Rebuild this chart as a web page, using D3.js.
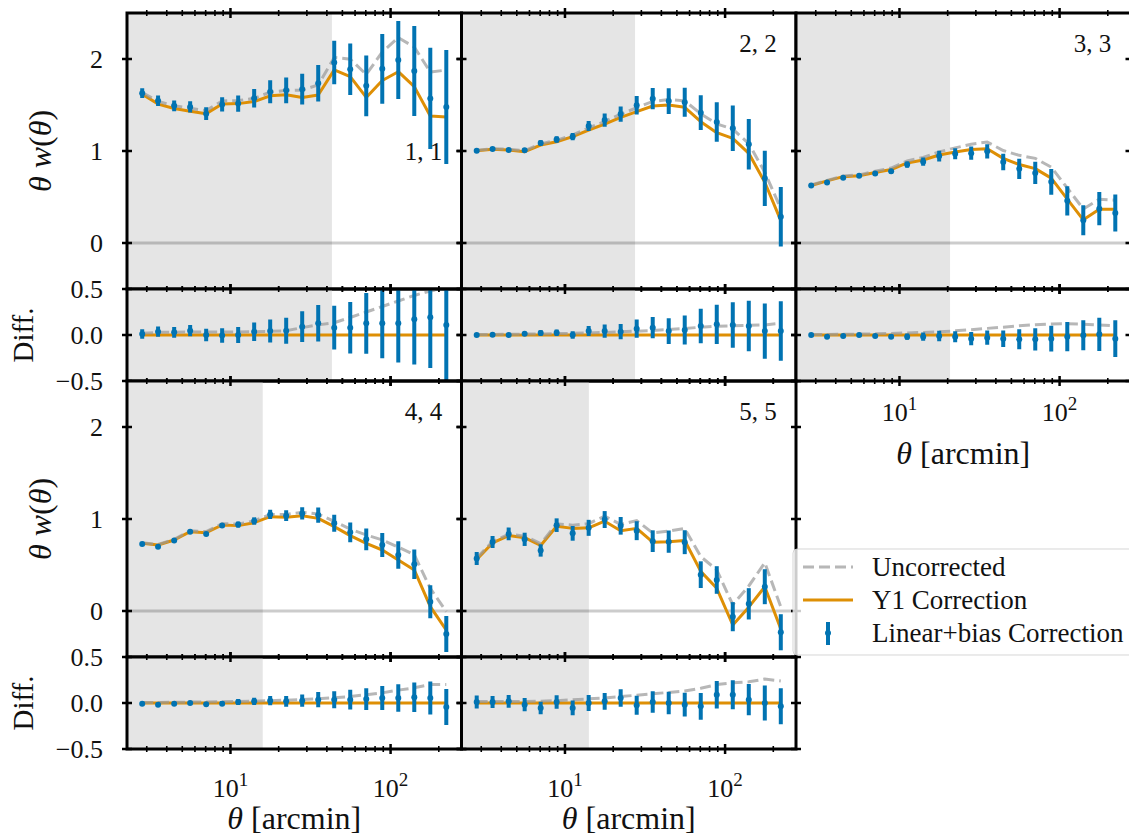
<!DOCTYPE html>
<html><head><meta charset="utf-8">
<script src="https://cdn.jsdelivr.net/npm/d3@7"></script>
<style>
body{margin:0;background:#fff}
text{font-family:"Liberation Serif","Times New Roman",serif;fill:#111}
</style>
</head><body>
<svg id="chart" width="1129" height="837"></svg>
<script>
// ---------------- data ----------------
const theta = [2.81, 3.53, 4.45, 5.60, 7.05, 8.87, 11.17, 14.06, 17.70, 22.28,
               28.05, 35.32, 44.46, 55.97, 70.47, 88.71, 111.7, 140.6, 177.0, 222.8];
const binLabels = ["1, 1", "2, 2", "3, 3", "4, 4", "5, 5"];
const scaleCuts = [43, 27.4, 20.7, 15.9, 14.1];

// Y1 correction (orange) theta*w(theta) per bin
const y1Correction = [
  [1.618,1.51,1.462,1.432,1.406,1.511,1.515,1.537,1.6,1.612,1.581,1.609,1.882,1.808,1.582,1.766,1.862,1.7,1.38,1.37],
  [1.004,1.018,1.011,0.993,1.065,1.101,1.156,1.228,1.293,1.366,1.428,1.489,1.5,1.475,1.319,1.199,1.138,0.975,0.66,0.243],
  [0.625,0.675,0.721,0.73,0.766,0.798,0.87,0.902,0.956,0.989,1.016,1.025,0.92,0.853,0.808,0.705,0.476,0.252,0.366,0.366],
  [0.736,0.717,0.772,0.862,0.851,0.935,0.928,0.96,1.025,1.018,1.036,1.007,0.917,0.819,0.736,0.663,0.554,0.446,0.047,-0.207],
  [0.56,0.74,0.82,0.797,0.712,0.922,0.898,0.904,0.976,0.872,0.898,0.748,0.754,0.766,0.431,0.247,-0.152,0.042,0.264,-0.195]
];
// Linear+bias correction minus Y1 correction (blue, "Diff.")
const linearBiasDiff = [
  [0.011,0.036,0.029,0.047,0.0,-0.005,0.0,0.036,0.043,0.047,0.091,0.127,0.08,0.08,0.127,0.127,0.127,0.17,0.192,0.109],
  [0.0,0.004,0.0,0.014,0.022,0.025,0.0,0.043,0.043,0.036,0.069,0.08,0.043,0.054,0.098,0.116,0.109,0.098,0.043,0.043],
  [0.0,-0.018,-0.011,0.0,-0.011,-0.018,-0.018,-0.018,-0.011,-0.018,-0.04,-0.029,-0.04,-0.047,-0.047,-0.04,-0.018,-0.004,0.007,-0.04],
  [-0.007,-0.018,-0.007,0.0,-0.014,-0.007,0.011,0.018,0.025,0.018,0.025,0.036,0.036,0.036,0.043,0.054,0.054,0.062,0.054,-0.043],
  [0.011,0.011,0.018,-0.018,-0.054,0.011,-0.054,0.0,0.018,0.054,-0.025,0.011,0.0,-0.018,-0.036,0.09,0.09,0.036,0.0,-0.036]
];
// Uncorrected minus Y1 correction (gray dashed, "Diff.")
const uncorrectedDiff = [
  [0.018,0.029,0.029,0.033,0.033,0.033,0.033,0.036,0.04,0.047,0.08,0.11,0.134,0.19,0.25,0.31,0.37,0.43,0.478,0.51],
  [0.005,0.006,0.008,0.01,0.012,0.015,0.018,0.022,0.028,0.035,0.042,0.05,0.06,0.07,0.085,0.095,0.1,0.105,0.11,0.13],
  [0.005,0.006,0.008,0.01,0.013,0.017,0.022,0.028,0.035,0.045,0.058,0.072,0.085,0.1,0.112,0.12,0.122,0.118,0.11,0.1],
  [0.005,0.006,0.008,0.01,0.012,0.014,0.017,0.02,0.025,0.031,0.038,0.047,0.058,0.07,0.09,0.11,0.14,0.165,0.2,0.2],
  [0.015,0.015,0.015,0.017,0.02,0.025,0.035,0.045,0.055,0.07,0.085,0.1,0.115,0.13,0.16,0.2,0.22,0.23,0.26,0.24]
];
// 1-sigma errors on the Linear+bias points
const errors = [
  [0.052,0.056,0.058,0.061,0.069,0.078,0.088,0.1,0.125,0.141,0.167,0.198,0.237,0.28,0.33,0.38,0.425,0.49,0.55,0.62],
  [0.012,0.013,0.015,0.018,0.03,0.035,0.04,0.054,0.072,0.083,0.1,0.116,0.14,0.158,0.188,0.214,0.248,0.275,0.3,0.323],
  [0.012,0.013,0.015,0.017,0.02,0.025,0.033,0.045,0.058,0.06,0.072,0.078,0.09,0.109,0.121,0.14,0.158,0.163,0.18,0.2],
  [0.01,0.01,0.012,0.013,0.014,0.025,0.033,0.04,0.05,0.058,0.067,0.083,0.092,0.107,0.118,0.13,0.15,0.16,0.18,0.195],
  [0.07,0.065,0.069,0.072,0.067,0.074,0.08,0.087,0.092,0.096,0.103,0.118,0.121,0.13,0.145,0.15,0.158,0.17,0.19,0.196]
];
const mainTicks = [0, 1, 2];
const diffTicks = [-0.5, 0, 0.5];
const xMajorTicks = [10, 100];
const xMinorTicks = [3,4,5,6,7,8,9,20,30,40,50,60,70,80,90,200];
const legendLabels = ["Uncorrected", "Y1 Correction", "Linear+bias Correction"];

// ---------------- layout / style ----------------
const COL = {blue:"#0173B2", orange:"#DE8F05", gray:"#999999", shade:"#e5e5e5"};
const svg = d3.select("#chart");
svg.append("rect").attr("width",1129).attr("height",837).attr("fill","#fff");
const colX = [127, 461.5, 796], colW = 334.5;
const rowTop = [13, 381], mainH = 276, diffH = 92;
const layout = [[0,0],[0,1],[0,2],[1,0],[1,1]];
const lo = Math.log10(theta[0]), hi = Math.log10(theta[theta.length-1]);
const pad = 0.05*(hi-lo);
const xDomain = [Math.pow(10, lo-pad), Math.pow(10, hi+pad)];
const tickFont = 26, labelFont = 32;
let clipId = 0;

function drawPanel(g, x, y, series, opts){
  const [x0,x1] = x.range(); const [yb,yt] = y.range();
  const id = "clip"+(clipId++);
  g.append("clipPath").attr("id",id).append("rect")
    .attr("x",x0).attr("y",yt).attr("width",x1-x0).attr("height",yb-yt);
  const d = g.append("g").attr("clip-path",`url(#${id})`);
  d.append("rect").attr("x",x0).attr("y",yt).attr("width",x(opts.cut)-x0).attr("height",yb-yt)
    .attr("fill",COL.shade);
  if(opts.zero){
    d.append("line").attr("x1",x0).attr("x2",x1).attr("y1",y(0)).attr("y2",y(0))
      .attr("stroke","#000").attr("stroke-opacity",0.2).attr("stroke-width",3);
  }
  const line = d3.line().x((v,i)=>x(theta[i])).y(v=>y(v));
  d.append("path").attr("d",line(series.orange)).attr("fill","none")
    .attr("stroke",COL.orange).attr("stroke-width",3).attr("stroke-linejoin","round");
  d.append("path").attr("d",line(series.gray)).attr("fill","none")
    .attr("stroke",COL.gray).attr("stroke-opacity",0.7).attr("stroke-width",3)
    .attr("stroke-dasharray","11,5");
  d.selectAll("line.err").data(series.blue).enter().append("line").attr("class","err")
    .attr("x1",(v,i)=>x(theta[i])).attr("x2",(v,i)=>x(theta[i]))
    .attr("y1",(v,i)=>y(v-series.err[i])).attr("y2",(v,i)=>y(v+series.err[i]))
    .attr("stroke",COL.blue).attr("stroke-width",4);
  d.selectAll("circle").data(series.blue).enter().append("circle")
    .attr("cx",(v,i)=>x(theta[i])).attr("cy",v=>y(v)).attr("r",3).attr("fill",COL.blue);
  // spines
  g.append("rect").attr("x",x0).attr("y",yt).attr("width",x1-x0).attr("height",yb-yt)
    .attr("fill","none").attr("stroke","#000").attr("stroke-width",3);
  // x ticks (in-out) on top and bottom
  const tg = g.append("g").attr("stroke","#000");
  [yt,yb].forEach(yy=>{
    xMajorTicks.forEach(t=>tg.append("line").attr("x1",x(t)).attr("x2",x(t))
      .attr("y1",yy-5).attr("y2",yy+5).attr("stroke-width",2.5));
    xMinorTicks.filter(t=>t>xDomain[0]&&t<xDomain[1]).forEach(t=>tg.append("line")
      .attr("x1",x(t)).attr("x2",x(t)).attr("y1",yy-3).attr("y2",yy+3).attr("stroke-width",1.6));
  });
  // y ticks left & right
  opts.yticks.forEach(t=>{
    [x0,x1].forEach(xx=>tg.append("line").attr("x1",xx-5).attr("x2",xx+5)
      .attr("y1",y(t)).attr("y2",y(t)).attr("stroke-width",2.5));
  });
  if(opts.ylabels){
    opts.yticks.forEach(t=>{
      g.append("text").attr("x",x0-24).attr("y",y(t)).attr("dy","0.35em")
        .attr("text-anchor","end").attr("font-size",tickFont)
        .text(opts.main ? String(t) : (t<0?"\u2212":"")+Math.abs(t).toFixed(1));
    });
  }
  if(opts.xlabels){
    xMajorTicks.forEach(t=>{
      const tx = g.append("text").attr("x",x(t)).attr("y",yb+opts.tickOff)
        .attr("text-anchor","middle").attr("font-size",tickFont);
      tx.append("tspan").text("10");
      tx.append("tspan").attr("dy",-11).attr("font-size",19).text(String(Math.round(Math.log10(t))));
    });
    const xl = g.append("text").attr("x",(x0+x1)/2).attr("y",yb+opts.labelOff)
      .attr("text-anchor","middle").attr("font-size",labelFont);
    xl.append("tspan").attr("font-style","italic").text("θ");
    xl.append("tspan").text(" [arcmin]");
  }
}

for(let b=0;b<5;b++){
  const [r,c] = layout[b];
  const g = svg.append("g");
  const x = d3.scaleLog().domain(xDomain).range([colX[c], colX[c]+colW]);
  const top = rowTop[r];
  const yM = d3.scaleLinear().domain([-0.5,2.5]).range([top+mainH, top]);
  const yD = d3.scaleLinear().domain([-0.5,0.5]).range([top+mainH+diffH, top+mainH]);
  const y1 = y1Correction[b];
  const lin = y1.map((v,i)=>v+linearBiasDiff[b][i]);
  const unc = y1.map((v,i)=>v+uncorrectedDiff[b][i]);
  drawPanel(g, x, yM, {orange:y1, gray:unc, blue:lin, err:errors[b]},
    {cut:scaleCuts[b], zero:true, main:true, yticks:mainTicks, ylabels:c===0});
  const bottomRow = (r===1) || (b===2);
  drawPanel(g, x, yD, {orange:y1.map(()=>0), gray:uncorrectedDiff[b], blue:linearBiasDiff[b], err:errors[b]},
    {cut:scaleCuts[b], zero:false, main:false, yticks:diffTicks, ylabels:c===0,
     xlabels:bottomRow, tickOff: r===1?48:40, labelOff: r===1?80:83});
  // bin label
  const lx = x.range()[1]-38;
  const ly = b===0 ? 160 : top+39;
  g.append("text").attr("x",lx).attr("y",ly).attr("text-anchor","middle")
    .attr("font-size",25).text(binLabels[b]);
  if(c===0){
    const yl = g.append("text").attr("transform",`translate(51,${top+mainH/2}) rotate(-90)`)
      .attr("text-anchor","middle").attr("font-size",labelFont);
    yl.append("tspan").attr("font-style","italic").text("θ");
    yl.append("tspan").text(" ");
    yl.append("tspan").attr("font-style","italic").text("w");
    yl.append("tspan").text("(");
    yl.append("tspan").attr("font-style","italic").text("θ");
    yl.append("tspan").text(")");
    g.append("text").attr("transform",`translate(33,${top+mainH+diffH/2}) rotate(-90)`)
      .attr("text-anchor","middle").attr("font-size",29).text("Diff.");
  }
}

// ---------------- legend ----------------
const lg = svg.append("g").attr("transform","translate(793,549)");
lg.append("rect").attr("x",0).attr("y",0).attr("width",350).attr("height",106).attr("rx",4)
  .attr("fill","#fff").attr("fill-opacity",0.8).attr("stroke","#cccccc").attr("stroke-opacity",0.8);
const rowsY = [18, 51, 84];
lg.append("line").attr("x1",10).attr("x2",60).attr("y1",rowsY[0]).attr("y2",rowsY[0])
  .attr("stroke",COL.gray).attr("stroke-opacity",0.7).attr("stroke-width",3).attr("stroke-dasharray","11,5");
lg.append("line").attr("x1",10).attr("x2",60).attr("y1",rowsY[1]).attr("y2",rowsY[1])
  .attr("stroke",COL.orange).attr("stroke-width",3);
lg.append("line").attr("x1",35).attr("x2",35).attr("y1",rowsY[2]-11).attr("y2",rowsY[2]+12)
  .attr("stroke",COL.blue).attr("stroke-width",4);
lg.append("circle").attr("cx",35).attr("cy",rowsY[2]).attr("r",3).attr("fill",COL.blue);
legendLabels.forEach((t,i)=>lg.append("text").attr("x",79).attr("y",rowsY[i]).attr("dy","0.35em")
  .attr("font-size",27).text(t));
</script>
</body></html>
